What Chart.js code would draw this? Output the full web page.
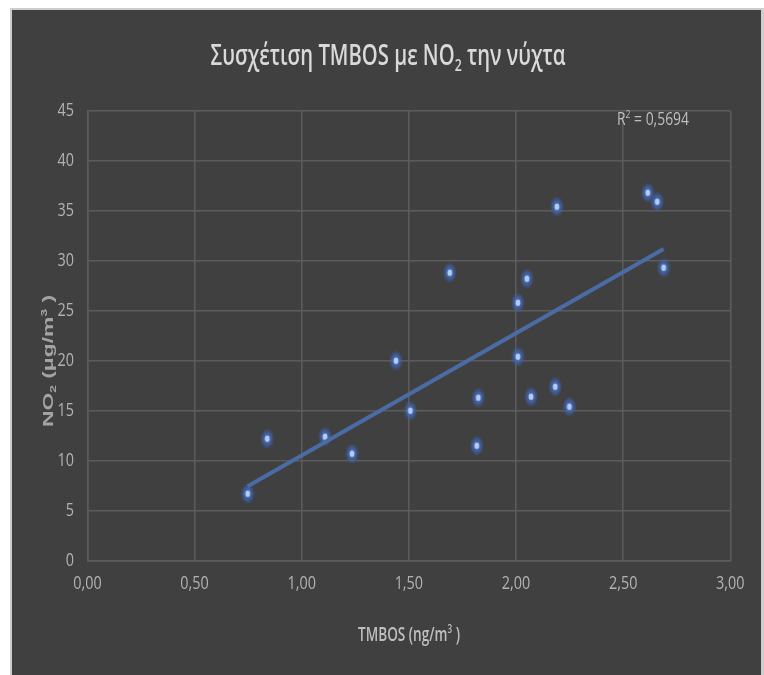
<!DOCTYPE html>
<html>
<head>
<meta charset="utf-8">
<script src="https://cdn.jsdelivr.net/npm/chart.js@4.4.1/dist/chart.umd.min.js"></script>
<style>
  html, body { margin: 0; padding: 0; background: #ffffff; }
  #wrap { width: 764px; height: 675px; }
</style>
</head>
<body>
<div id="wrap"><canvas id="chart" width="764" height="675"></canvas></div>
<script>
// TMBOS (ng/m3) night-time concentrations and matching NO2 (µg/m3)
const tmbos = [0.748, 0.839, 1.109, 1.235, 1.440, 1.507, 1.691, 1.817, 1.824, 2.009,
               2.009, 2.051, 2.070, 2.191, 2.183, 2.249, 2.615, 2.659, 2.689];
const no2   = [6.7, 12.2, 12.4, 10.7, 20.0, 15.0, 28.8, 11.5, 16.3, 25.8,
               20.4, 28.2, 16.4, 35.4, 17.4, 15.4, 36.8, 35.9, 29.3];

const xTicks = [0, 0.5, 1, 1.5, 2, 2.5, 3];
const yTicks = [0, 5, 10, 15, 20, 25, 30, 35, 40, 45];

const titleParts = ['Συσχέτιση TMBOS με NO', '2', ' την νύχτα'];
const xTitleParts = ['TMBOS (ng/m', '3', ' )'];
const yTitleParts = ['NO', '2', ' (μg/m', '3', ' )'];
const r2Label = ['R', '2', ' = 0,5694'];

// least-squares linear trend through the measured points
function linearFit(xs, ys) {
  const n = xs.length;
  const mx = xs.reduce((a, b) => a + b, 0) / n;
  const my = ys.reduce((a, b) => a + b, 0) / n;
  let sxy = 0, sxx = 0;
  for (let i = 0; i < n; i++) {
    sxy += (xs[i] - mx) * (ys[i] - my);
    sxx += (xs[i] - mx) * (xs[i] - mx);
  }
  const slope = sxy / sxx;
  return { slope, intercept: my - slope * mx };
}
const fit = linearFit(tmbos, no2);
const xMin = Math.min(...tmbos), xMax = Math.max(...tmbos);
const trend = [xMin, xMax].map(x => ({ x, y: fit.intercept + fit.slope * x }));

const points = tmbos.map((x, i) => ({ x, y: no2[i] }));

// glowing marker sprite
function makeDot() {
  const c = document.createElement('canvas');
  c.width = 16; c.height = 22;
  const g = c.getContext('2d');
  g.save();
  g.translate(8, 11);
  g.scale(0.68, 1);
  const grad = g.createRadialGradient(0, 0, 0, 0, 0, 10.5);
  grad.addColorStop(0, 'rgba(72,112,195,1)');
  grad.addColorStop(0.5, 'rgba(66,104,186,0.8)');
  grad.addColorStop(0.8, 'rgba(62,98,176,0.35)');
  grad.addColorStop(1, 'rgba(62,98,176,0)');
  g.fillStyle = grad;
  g.beginPath(); g.arc(0, 0, 10.5, 0, Math.PI * 2); g.fill();
  g.restore();
  g.fillStyle = '#b4cbf0';
  g.beginPath(); g.ellipse(8, 11, 2.4, 3.3, 0, 0, Math.PI * 2); g.fill();
  return c;
}

const FONT = "'Open Sans', 'Liberation Sans', sans-serif";
const FONT_BOLD = "'Liberation Sans', 'Open Sans', sans-serif";
const SQUEEZE = 0.8;

// draws text made of [normal, sub/sup, normal, ...] pieces, squeezed horizontally
function drawRich(ctx, parts, opts) {
  const { size, family, weight, color, cx, left, baseline, width, rotate, supIdx } = opts;
  const small = Math.round(size * 0.62);
  ctx.save();
  ctx.fillStyle = color;
  ctx.textBaseline = 'alphabetic';
  ctx.textAlign = 'left';
  const fonts = parts.map((p, i) => (i % 2 === 1) ? `${weight} ${small}px ${family}` : `${weight} ${size}px ${family}`);
  let natural = 0;
  const widths = parts.map((p, i) => { ctx.font = fonts[i]; const w = ctx.measureText(p).width; natural += w; return w; });
  const sx = width ? width / natural : 1;
  const total = natural * sx;
  if (rotate) {
    ctx.translate(opts.x, opts.y);
    ctx.rotate(-Math.PI / 2);
    ctx.translate(-total / 2, 0);
  } else {
    ctx.translate(left !== undefined ? left : cx - total / 2, baseline);
  }
  ctx.scale(sx, 1);
  let pos = 0;
  parts.forEach((p, i) => {
    ctx.font = fonts[i];
    let dy = 0;
    if (i % 2 === 1) dy = (supIdx && supIdx.includes(i)) ? -size * 0.38 : size * 0.2;
    ctx.fillText(p, pos, dy);
    pos += widths[i];
  });
  ctx.restore();
}

// single condensed label centred on (x, y)
function drawLabel(ctx, text, x, y, align) {
  ctx.save();
  ctx.translate(x, y);
  ctx.scale(SQUEEZE, 1);
  ctx.font = `400 18px ${FONT}`;
  ctx.fillStyle = '#b3b3b3';
  ctx.textAlign = align;
  ctx.textBaseline = 'middle';
  ctx.fillText(text, 0, 0);
  ctx.restore();
}

const framePlugin = {
  id: 'frame',
  beforeDraw(chart) {
    const ctx = chart.ctx;
    ctx.save();
    ctx.fillStyle = '#ffffff';
    ctx.fillRect(0, 0, chart.width, chart.height);
    ctx.fillStyle = '#cdcdcd';
    ctx.fillRect(10, 8, 754, 667);
    ctx.fillStyle = '#404040';
    ctx.fillRect(12, 10, 749, 665);
    ctx.restore();
  },
  afterDraw(chart) {
    const ctx = chart.ctx;
    const xs = chart.scales.x, ys = chart.scales.y;
    xs.ticks.forEach(t => {
      drawLabel(ctx, Number(t.value).toFixed(2).replace('.', ','), xs.getPixelForValue(t.value), 584, 'center');
    });
    ys.ticks.forEach(t => {
      drawLabel(ctx, String(t.value), 74, ys.getPixelForValue(t.value), 'right');
    });
    drawRich(ctx, titleParts, { size: 28, family: FONT, weight: '600', color: '#d9d9d9',
      cx: 388, baseline: 65, width: 355 });
    drawRich(ctx, r2Label, { size: 18, family: FONT, weight: '400', color: '#bfbfbf',
      left: 617, baseline: 125, width: 72, supIdx: [1] });
    drawRich(ctx, xTitleParts, { size: 20, family: FONT, weight: '600', color: '#bfbfbf',
      cx: 409, baseline: 641, width: 102, supIdx: [1] });
    drawRich(ctx, yTitleParts, { size: 15, family: FONT_BOLD, weight: 'bold', color: '#a3a3a3',
      rotate: true, x: 53, y: 361, width: 132, supIdx: [3] });
  }
};

const gridColor = '#5c5c5c';

new Chart(document.getElementById('chart'), {
  type: 'scatter',
  data: {
    datasets: [
      {
        type: 'line',
        label: 'Trend',
        data: trend,
        borderColor: '#4a6ca6',
        borderWidth: 4,
        pointRadius: 0,
        fill: false,
        order: 0
      },
      {
        label: 'NO2',
        data: points,
        pointStyle: makeDot(),
        pointRadius: 5,
        pointHoverRadius: 5,
        order: 1
      }
    ]
  },
  options: {
    responsive: false,
    animation: false,
    devicePixelRatio: 1,
    layout: { padding: { top: 110.7, right: 33.7, left: 0, bottom: 0 } },
    plugins: { legend: { display: false }, tooltip: { enabled: false }, title: { display: false } },
    scales: {
      x: {
        type: 'linear',
        min: xTicks[0],
        max: xTicks[xTicks.length - 1],
        afterBuildTicks: s => { s.ticks = xTicks.map(v => ({ value: v })); },
        afterFit: s => { s.height = 114.3; },
        ticks: { display: false },
        grid: { color: gridColor, lineWidth: 1.5, drawTicks: false },
        border: { color: gridColor, width: 1.5 }
      },
      y: {
        type: 'linear',
        min: yTicks[0],
        max: yTicks[yTicks.length - 1],
        afterBuildTicks: s => { s.ticks = yTicks.map(v => ({ value: v })); },
        afterFit: s => { s.width = 87.4; },
        ticks: { display: false },
        grid: { color: gridColor, lineWidth: 1.5, drawTicks: false },
        border: { color: gridColor, width: 1.5 }
      }
    }
  },
  plugins: [framePlugin]
});
</script>
</body>
</html>
